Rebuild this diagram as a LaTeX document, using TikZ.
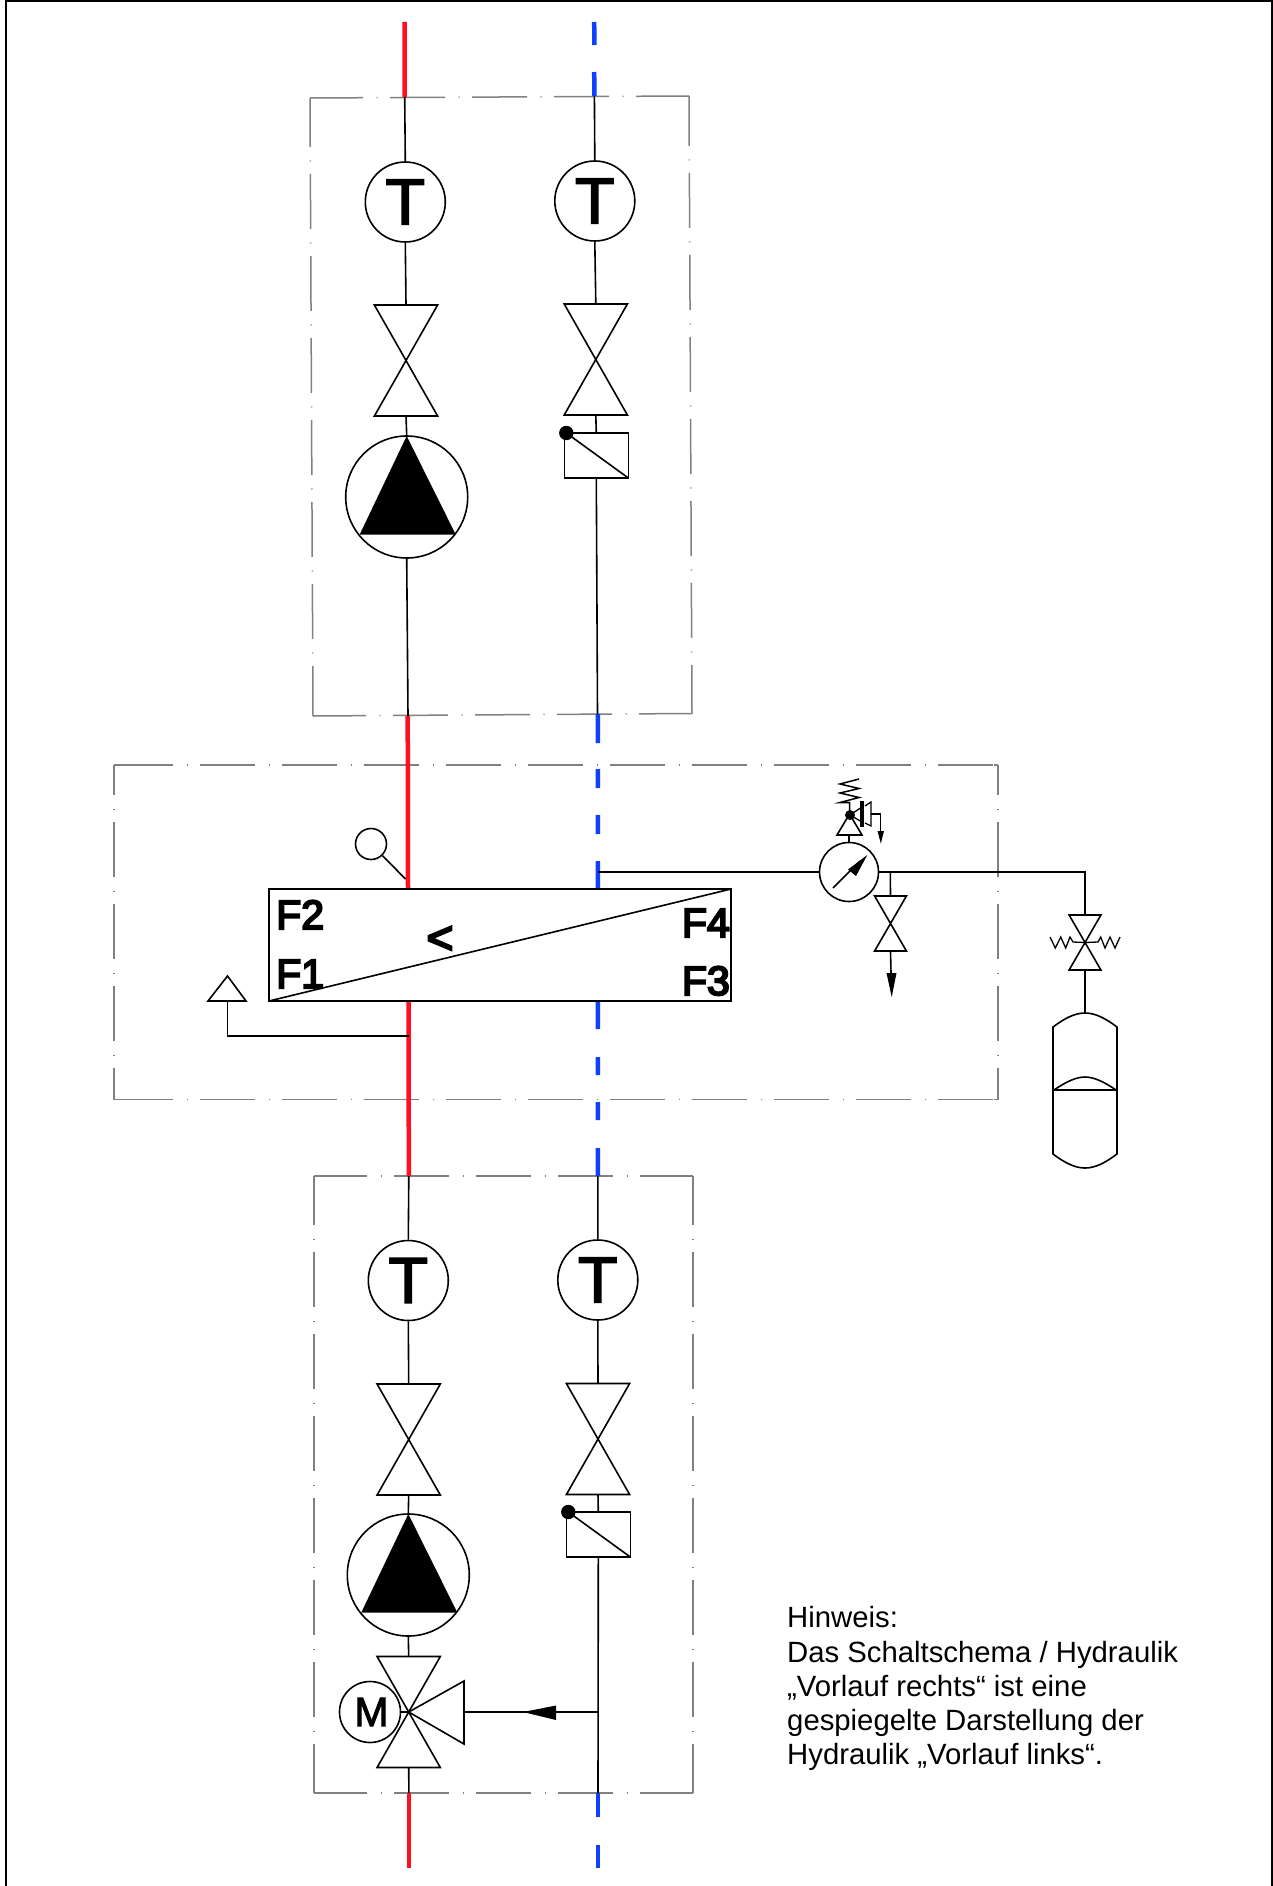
\documentclass[tikz,border=0pt]{standalone}
\usepackage{fontspec}
\setmainfont{Liberation Sans}
\newfontfamily\heavyfont[FakeBold=2.5]{Liberation Sans}
\newfontfamily\blackfont[FakeBold=5]{Liberation Sans}
\usetikzlibrary{calc}
\definecolor{hotred}{HTML}{FF1020}
\definecolor{coldblue}{HTML}{1040FF}
\definecolor{boxgray}{HTML}{808080}
\tikzset{
  pipeline/.style={line width=1.6pt,draw=black},
  redpipe/.style={line width=4.5pt,draw=hotred},
  bluepipe/.style={line width=4.5pt,draw=coldblue},
  borderline/.style={line width=2.4pt,draw=black},
  graybox/.style={line width=1.5pt,draw=boxgray,dash pattern=on 55pt off 13.5pt on 1pt off 12.5pt,dash phase=#1},
  graybox/.default=2pt,
  graystub/.style={line width=1.5pt,draw=boxgray},
  sensor/.style={circle,draw=black,line width=1.6pt,inner sep=0pt,minimum size=80pt,font=\heavyfont\fontsize{65}{65}\selectfont},
  pumpcirc/.style={circle,draw=black,line width=1.6pt,inner sep=0pt,minimum size=122pt},
  motorcirc/.style={circle,draw=black,line width=1.6pt,inner sep=0pt,minimum size=61pt,font=\heavyfont\fontsize{41}{41}\selectfont},
  gaugecirc/.style={circle,draw=black,line width=1.6pt,inner sep=0pt,minimum size=59pt},
  smallcirc/.style={circle,draw=black,line width=1.6pt,inner sep=0pt,minimum size=31pt},
  flabel/.style={inner sep=0pt,font=\blackfont\fontsize{41}{41}\selectfont},
  symbolpart/.style={line width=1.6pt,draw=black,line join=miter},
}
% name, x, y, half width, half height
\newcommand{\gatevalve}[5]{%
  \begin{scope}[shift={(#2,#3)}]
    \coordinate (#1-c) at (0,0);
    \coordinate (#1-n) at (0,-#5);
    \coordinate (#1-s) at (0,#5);
    \draw[symbolpart] (-#4,-#5) -- (#4,-#5) -- (-#4,#5) -- (#4,#5) -- cycle;
  \end{scope}}
% name, x, y : pump centre
\newcommand{\pumpsym}[3]{%
  \node[pumpcirc] (#1) at (#2,#3) {};
  \fill[black] (#2,#3-61) -- (#2+49,#3+37.5) -- (#2-47,#3+37.5) -- cycle;}
% name, x, y : top-left corner of the actuator box
\newcommand{\actuator}[3]{%
  \begin{scope}[shift={(#2,#3)}]
    \coordinate (#1-n) at (32,0);
    \coordinate (#1-s) at (32,45);
    \draw[symbolpart] (0,0) rectangle (64,45);
    \draw[symbolpart] (2,0) -- (64,45);
    \fill[black] (2,0) circle (7.2);
  \end{scope}}
\begin{document}
\begin{tikzpicture}[x=1pt,y=-1pt]
\useasboundingbox (0,0) rectangle (1273,1886);
\fill[white] (0,0) rectangle (1273,1886);
% sheet border
\coordinate (fa) at (6,1886);
\coordinate (fb) at (6,1.2);
\coordinate (fc) at (1271.8,1.2);
\coordinate (fd) at (1271.8,1886);
\draw[borderline] (fa) -- (fb) -- (fc) -- (fd);

% dash-dot boxes
\coordinate (ua) at (310,98);
\coordinate (ub) at (689,96);
\coordinate (uc) at (692,713.5);
\coordinate (ud) at (313,716);
\draw[graybox=2pt] (ua) -- (ub);
\draw[graybox=2pt] (ud) -- (uc);
\draw[graybox=6pt] (ua) -- (ud);
\draw[graybox=5pt] (ub) -- (uc);

\coordinate (la) at (314,1176);
\coordinate (lb) at (693,1176);
\coordinate (lc) at (693,1793);
\coordinate (ld) at (314,1793);
\draw[graybox=2pt] (la) -- (lb);
\draw[graybox=2pt] (ld) -- (lc);
\draw[graybox=6pt] (la) -- (ld);
\draw[graybox=6pt] (lb) -- (lc);

\coordinate (ma) at (114,765);
\coordinate (mb) at (998,765);
\coordinate (mc) at (998,1099.5);
\coordinate (md) at (114,1099.5);
\draw[graybox=0pt] (118,765) -- (994,765);
\draw[graybox=0pt] (118,1099.5) -- (994,1099.5);
\draw[graybox=25pt] (ma) -- (md);
\draw[graybox=25pt] (mb) -- (mc);
\draw[graystub] (118,765) -- (ma);
\draw[graystub] (994,765) -- (mb);
\draw[graystub] (118,1099.5) -- (md);
\draw[graystub] (994,1099.5) -- (mc);

% coloured pipes
\draw[redpipe] (404.5,22) -- (404.7,97);
\draw[redpipe] (407.7,716) -- (408,889);
\draw[redpipe] (408.6,1001) -- (408.8,1176);
\draw[redpipe] (408.9,1793) -- (408.9,1868);
\foreach \a/\b in {22/45,72/96}{\draw[bluepipe] (594.2,\a) -- (594.4,\b);}
\foreach \a/\b in {714/743,769/788,815/834,861/889,1001/1029,1057/1075,1102/1120,1148/1176}{\draw[bluepipe] (597.8,\a) -- (597.9,\b);}
\foreach \a/\b in {1793/1817,1845/1868}{\draw[bluepipe] (598,\a) -- (598,\b);}

% upper section
\node[sensor] (t1) at (405.3,202) {\raisebox{-1.5pt}{T}};
\node[sensor] (t2) at (594.8,201) {\raisebox{-1.5pt}{T}};
\gatevalve{v1}{406}{360.5}{31.6}{55.5}
\gatevalve{v2}{595.8}{359.5}{31.6}{55.5}
\pumpsym{p1}{406.7}{497}
\actuator{a1}{564.3}{433}
\coordinate (u1) at (404.7,97);
\coordinate (u2) at (594.4,96);
\coordinate (u3) at (408,716);
\coordinate (u4) at (597.5,714);
\draw[pipeline] (u1) -- (t1.north);
\draw[pipeline] (t1.south) -- (v1-n);
\draw[pipeline] (v1-s) -- (p1.north);
\draw[pipeline] (p1.south) -- (u3);
\draw[pipeline] (u2) -- (t2.north);
\draw[pipeline] (t2.south) -- (v2-n);
\draw[pipeline] (v2-s) -- (a1-n);
\draw[pipeline] (a1-s) -- (u4);

% lower section
\node[sensor] (t3) at (408.3,1280.5) {\raisebox{-1.5pt}{T}};
\node[sensor] (t4) at (597.8,1280) {\raisebox{-1.5pt}{T}};
\gatevalve{v3}{408.7}{1439.5}{31.6}{55.5}
\gatevalve{v4}{598}{1439}{31.6}{55.5}
\pumpsym{p2}{408.3}{1575}
\actuator{a2}{566.3}{1512}
\gatevalve{v5}{408.7}{1712}{31.6}{55.5}
\coordinate (l1) at (408.8,1176);
\coordinate (l2) at (597.9,1176);
\coordinate (l3) at (408.9,1793);
\coordinate (l4) at (598,1793);
\coordinate (tee) at (598,1712);
\draw[pipeline] (l1) -- (t3.north);
\draw[pipeline] (t3.south) -- (v3-n);
\draw[pipeline] (v3-s) -- (p2.north);
\draw[pipeline] (p2.south) -- (v5-n);
\draw[pipeline] (v5-s) -- (l3);
\draw[pipeline] (l2) -- (t4.north);
\draw[pipeline] (t4.south) -- (v4-n);
\draw[pipeline] (v4-s) -- (a2-n);
\draw[pipeline] (a2-s) -- (l4);
% three-way branch and motor
\coordinate (wing) at (464,1712);
\draw[symbolpart] (v5-c) -- (464,1681) -- (464,1744) -- cycle;
\draw[pipeline] (wing) -- (tee);
\fill[black] (523,1712) -- (556,1705.5) -- (556,1720) -- cycle;
\node[motorcirc] (m1) at (370,1712) {\hspace{3pt}M};
\draw[pipeline] (m1.east) -- (v5-c);

% heat exchanger
\coordinate (hx-a) at (269,889);
\coordinate (hx-b) at (731,889);
\coordinate (hx-c) at (731,1001);
\coordinate (hx-d) at (269,1001);
\draw[symbolpart] (hx-a) -- (hx-b) -- (hx-c) -- (hx-d) -- cycle;
\draw[pipeline] (hx-d) -- (hx-b);
\node[flabel,anchor=base west] (f2) at (276,929) {F2};
\node[flabel,anchor=base west] (f1) at (276,988) {F1};
\node[flabel,anchor=base east] (f4) at (730,937) {F4};
\node[flabel,anchor=base east] (f3) at (730,995) {F3};
\node[inner sep=0pt,font=\blackfont\fontsize{46}{46}\selectfont] (lt) at (440,940) {<};

% sensor on the hot side above the exchanger
\node[smallcirc] (s1) at (371,844) {};
\coordinate (s1end) at (405.5,879);
\draw[pipeline] (s1) -- (s1end);

% vent on the hot side below the exchanger
\coordinate (ven) at (227.5,976);
\coordinate (vea) at (208,1001);
\coordinate (veb) at (246,1001);
\coordinate (vec) at (227.5,1001);
\coordinate (ved) at (227.5,1036);
\coordinate (vee) at (408.7,1036);
\draw[symbolpart] (ven) -- (veb) -- (vea) -- cycle;
\draw[pipeline] (vec) -- (ved) -- (vee);

% cold side branch, gauge and expansion vessel
\node[gaugecirc] (g1) at (849,872) {};
\coordinate (brs) at (597.9,872);
\coordinate (brc) at (1085,872);
\gatevalve{v6}{1085}{942.5}{15.9}{27.5}
\draw[pipeline] (brs) -- (g1.west);
\draw[pipeline] (g1.east) -- (brc) -- (v6-n);
% needle
\coordinate (na) at (833,888);
\coordinate (nb) at (860,861);
\draw[pipeline] (na) -- (nb);
\fill[black] (867.3,855) -- (848,869.5) -- (856,876) -- cycle;
% springs of the lockable valve
\draw[line width=1.3pt] (v6-c) -- (1073,942) -- (1070,937) -- (1065.7,948) -- (1060.7,937) -- (1055.3,948) -- (1050,937);
\draw[line width=1.3pt] (v6-c) -- (1098,942) -- (1100.7,937) -- (1105,948) -- (1110,937) -- (1115,948) -- (1120,937);
% vessel
\draw[symbolpart] (1053,1027) .. controls (1065,1018) and (1075,1013) .. (1085,1013) .. controls (1095,1013) and (1105,1018) .. (1117,1027) -- (1117,1154) .. controls (1105,1163) and (1095,1168) .. (1085,1168) .. controls (1075,1168) and (1065,1163) .. (1053,1154) -- cycle;
\coordinate (vtop) at (1085,1013);
\draw[pipeline] (v6-s) -- (vtop);
\draw[symbolpart] (1053,1090) -- (1117,1090);
\draw[symbolpart] (1054,1090) .. controls (1067,1081) and (1077,1077) .. (1085,1077) .. controls (1093,1077) and (1103,1081) .. (1116,1090);

% drain under the gauge
\coordinate (dr0) at (890.3,872);
\gatevalve{v7}{890.5}{923.5}{15.9}{27.5}
\coordinate (dr1) at (891,973);
\draw[pipeline] (dr0) -- (v7-n);
\draw[pipeline] (v7-s) -- (dr1);
\fill[black] (886.5,973) -- (896.5,973) -- (891.7,997) -- cycle;

% safety valve on the gauge
\coordinate (sv0) at (849,835);
\draw[pipeline] (g1.north) -- (sv0);
\draw[symbolpart] (837,835) -- (862,835) -- (849.5,814) -- cycle;
\fill[black] (850,815) circle (5);
\draw[line width=1.5pt] (849.5,812) -- (849.5,802.5) -- (840,802.5) -- (859,797.5) -- (840,793) -- (859,788.5) -- (840,784) -- (859,779);
\draw[line width=1.3pt] (850,815) -- (862,807);
\draw[line width=1.3pt] (850,815) -- (862,822);
\draw[line width=4.5pt] (862,801) -- (862,827);
\draw[line width=1.3pt] (865,806) -- (871,802) -- (871,826) -- (865,823);
\coordinate (sv1) at (871,814);
\coordinate (sv2) at (880.5,814);
\coordinate (sv3) at (880.5,832);
\draw[line width=1.3pt] (sv1) -- (sv2) -- (sv3);
\fill[black] (877.5,831) -- (884,831) -- (880.8,843.5) -- cycle;

% note
\node[inner sep=0pt,anchor=north west,align=left,font=\fontsize{29.3}{34.2}\selectfont] (note) at (787,1606.5) {Hinweis:\\Das Schaltschema / Hydraulik\\„Vorlauf rechts“ ist eine\\gespiegelte Darstellung der\\Hydraulik „Vorlauf links“.};
\end{tikzpicture}
\end{document}
